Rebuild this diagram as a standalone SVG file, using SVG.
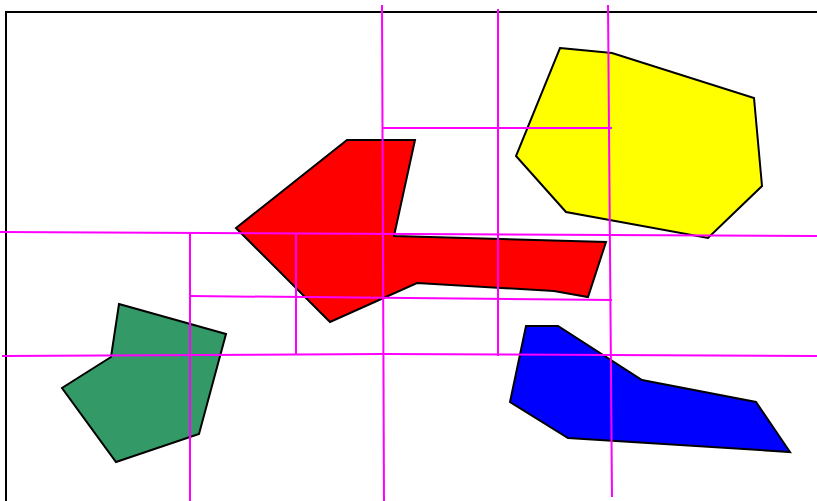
<svg xmlns="http://www.w3.org/2000/svg" width="817" height="501" viewBox="0 0 817 501">
<style>
.poly{stroke:#000;stroke-width:2;stroke-linejoin:miter}
.cut{stroke:#ff00ff;stroke-width:2;fill:none}
</style>
<rect width="817" height="501" fill="#fff"/>
<path d="M6,502 V12 H818" fill="none" stroke="#000" stroke-width="2"/>
<g id="red"><polygon class="poly" fill="#ff0000" points="236,228 347,140 415,140 394,236 606,242 588,297 554,291 417,283 330,322"/></g>
<g id="yellow"><polygon class="poly" fill="#ffff00" points="560,48 612,53 754,98 762,186 708,238 566,212 516,156"/></g>
<g id="green"><polygon class="poly" fill="#339966" points="119,304 226,334 199,434 116,462 62,388 111,357"/></g>
<g id="blue"><polygon class="poly" fill="#0000ff" points="526,326 558,326 642,380 756,402 790,452 568,438 510,402"/></g>
<g id="connectors">
<line class="cut" x1="382" y1="5" x2="384" y2="501"/>
<line class="cut" x1="498" y1="9" x2="498" y2="356"/>
<line class="cut" x1="608" y1="5" x2="612" y2="497"/>
<line class="cut" x1="382" y1="128" x2="612" y2="128"/>
<line class="cut" x1="0" y1="232" x2="817" y2="236"/>
<line class="cut" x1="190" y1="232" x2="190" y2="501"/>
<line class="cut" x1="296" y1="234" x2="296" y2="354"/>
<line class="cut" x1="190" y1="296" x2="612" y2="300"/>
<polyline class="cut" points="2,356 383,354 817,356"/>
</g>
</svg>
